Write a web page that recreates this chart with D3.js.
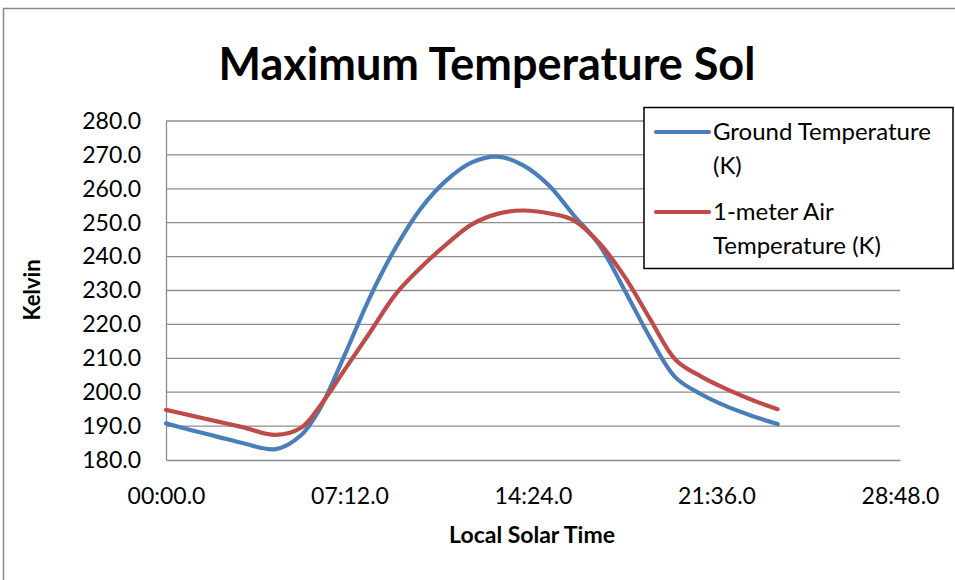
<!DOCTYPE html>
<html lang="en">
<head>
<meta charset="UTF-8">
<title>Maximum Temperature Sol</title>
<script src="https://cdn.jsdelivr.net/npm/d3@7"></script>
<style>
  body { margin: 0; background: #fff; }
  text { font-family: Lato, "Open Sans", sans-serif; fill: #000; }
</style>
</head>
<body>
<div id="chart"></div>
<script>
// local solar time of each reading, in hours
var hours = [0, 1, 2, 3, 4.3, 5.3, 6, 7, 8, 9, 10, 11, 12, 13, 14, 15, 16, 17, 18, 19, 20, 21, 22, 23, 24];
var groundTemp = [190.8, 188.8, 186.9, 185.0, 183.2, 187.3, 194.6, 210.8, 228.0, 242.5, 254.2, 262.5, 267.8,
                  269.5, 267.0, 261.2, 252.2, 243.5, 230.0, 216.0, 204.3, 199.4, 195.8, 193.0, 190.6];
var airTemp = [194.8, 193.1, 191.4, 189.7, 187.4, 189.5, 195.5, 206.5, 217.6, 228.8, 236.8, 243.6, 249.5,
               252.6, 253.6, 252.8, 250.7, 244.0, 234.0, 221.5, 209.5, 204.6, 200.9, 197.7, 195.0];
var seriesNames = [["Ground Temperature", "(K)"], ["1-meter Air", "Temperature (K)"]];
var xTicks = [0, 7.2, 14.4, 21.6, 28.8];
var xTickLabels = ["00:00.0", "07:12.0", "14:24.0", "21:36.0", "28:48.0"];
var yTicks = [180, 190, 200, 210, 220, 230, 240, 250, 260, 270, 280];

var width = 955, height = 580;
var margin = {left: 166, top: 121, right: 55, bottom: 120};

var svg = d3.select("#chart").append("svg")
    .attr("width", width)
    .attr("height", height);

// chart frame (runs off the right and bottom edges)
svg.append("rect")
    .attr("x", 3.5).attr("y", 8.5)
    .attr("width", 970).attr("height", 600)
    .attr("fill", "none").attr("stroke", "#888").attr("stroke-width", 1.5);

var x = d3.scaleLinear().domain([0, 28.8]).range([margin.left, width - margin.right]);
var y = d3.scaleLinear().domain([180, 280]).range([height - margin.bottom, margin.top]);

// gridlines
svg.append("g").selectAll("line")
    .data(yTicks.slice(1))
    .enter().append("line")
    .attr("x1", x(0)).attr("x2", x(28.8))
    .attr("y1", function (d) { return y(d); })
    .attr("y2", function (d) { return y(d); })
    .attr("stroke", "#8c8c8c").attr("stroke-width", 1.3);

var yAxis = d3.axisLeft(y).tickValues(yTicks).tickFormat(d3.format(".1f")).tickSize(0).tickPadding(25);
var gy = svg.append("g").attr("transform", "translate(" + x(0) + ",0)").call(yAxis);
gy.select(".domain").attr("stroke", "#8c8c8c").attr("stroke-width", 1.3);
gy.selectAll("text").style("font-size", "23px").style("font-family", "Lato, sans-serif");

var xAxis = d3.axisBottom(x).tickValues(xTicks)
    .tickFormat(function (d, i) { return xTickLabels[i]; })
    .tickSize(0).tickPadding(28);
var gx = svg.append("g").attr("transform", "translate(0," + y(180) + ")").call(xAxis);
gx.select(".domain").attr("stroke", "#8c8c8c").attr("stroke-width", 1.3);
gx.selectAll("text").style("font-size", "23px").style("font-family", "Lato, sans-serif");

// series lines
var colors = ["#4a7ebb", "#be4b48"];
var line = d3.line()
    .x(function (d) { return x(d[0]); })
    .y(function (d) { return y(d[1]); })
    .curve(d3.curveCatmullRom);

[groundTemp, airTemp].forEach(function (vals, k) {
    svg.append("path")
        .datum(d3.zip(hours, vals))
        .attr("d", line)
        .attr("fill", "none")
        .attr("stroke", colors[k])
        .attr("stroke-width", 4.2)
        .attr("stroke-linecap", "round");
});

// titles
svg.append("text")
    .attr("x", 487).attr("y", 80)
    .attr("text-anchor", "middle")
    .style("font-size", "45px").style("font-weight", "bold")
    .text("Maximum Temperature Sol");

svg.append("text")
    .attr("x", 532).attr("y", 543)
    .attr("text-anchor", "middle")
    .style("font-size", "23px").style("font-weight", "bold")
    .text("Local Solar Time");

svg.append("text")
    .attr("transform", "translate(40,290) rotate(-90)")
    .attr("text-anchor", "middle")
    .style("font-size", "22px").style("font-weight", "bold")
    .text("Kelvin");

// legend
var legend = svg.append("g");
legend.append("rect")
    .attr("x", 644).attr("y", 107.5)
    .attr("width", 309).attr("height", 161)
    .attr("fill", "#fff").attr("stroke", "#000").attr("stroke-width", 1.5);

seriesNames.forEach(function (rows, k) {
    var top = 132 + k * 80;
    legend.append("line")
        .attr("x1", 656).attr("x2", 709)
        .attr("y1", top).attr("y2", top)
        .attr("stroke", colors[k]).attr("stroke-width", 4.2)
        .attr("stroke-linecap", "round");
    rows.forEach(function (r, j) {
        legend.append("text")
            .attr("x", 713).attr("y", top + 8 + j * 34)
            .style("font-size", "24px")
            .text(r);
    });
});
</script>
</body>
</html>
